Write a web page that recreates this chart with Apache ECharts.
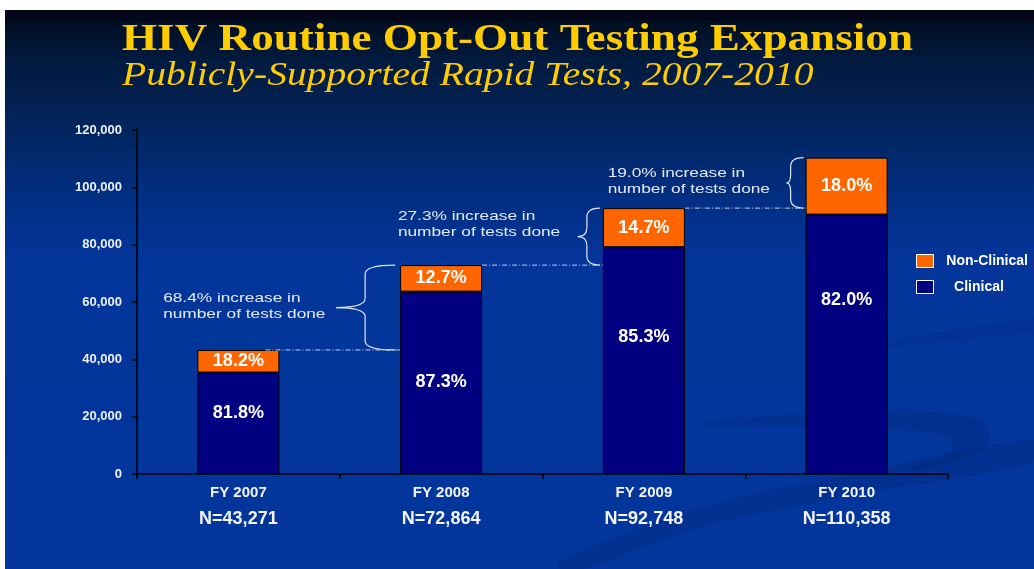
<!DOCTYPE html>
<html><head><meta charset="utf-8">
<script src="https://cdn.jsdelivr.net/npm/echarts@6/dist/echarts.min.js"></script>
<style>
html,body{margin:0;padding:0;background:#fff;width:1034px;height:569px;overflow:hidden}
#bg{position:absolute;left:5px;top:10px;width:1029px;height:559px;
background:linear-gradient(to bottom,#04061a 0px,#04061a 10px,#010e22 11px,#011a3e 50px,#03245a 110px,#022e80 180px,#03359a 250px,#02369c 559px)}
#chart{position:absolute;left:0;top:0;width:1034px;height:569px}
</style></head>
<body><div id="bg"></div><div id="chart"></div>
<script>
const categories = ['FY 2007', 'FY 2008', 'FY 2009', 'FY 2010'];
const totals = [43271, 72864, 92748, 110358];
const clinical = [35396, 63610, 79114, 90494];
const nonClinical = [7875, 9254, 13634, 19864];
const clinicalPct = ['81.8%', '87.3%', '85.3%', '82.0%'];
const nonClinicalPct = ['18.2%', '12.7%', '14.7%', '18.0%'];
const increasePct = ['68.4%', '27.3%', '19.0%'];
const yMin = 0, yMax = 120000, yStep = 20000;

const FONT = '"Liberation Sans", Arial, sans-serif';
const SERIF = '"Liberation Serif", "Times New Roman", serif';
const BAR_W = 82;
const clinicalLabelY = [40, 90, 90, 85];

const chart = echarts.init(document.getElementById('chart'), null, {renderer: 'canvas'});

const option = {
  backgroundColor: 'transparent',
  animation: false,
  grid: {left: 137, right: 86, top: 130, bottom: 95, containLabel: false},
  legend: {
    orient: 'vertical', left: 916, top: 254, padding: 0,
    itemWidth: 17, itemHeight: 13, itemGap: 12, icon: 'rect',
    data: ['Non-Clinical', 'Clinical'],
    formatter: n => n === 'Clinical' ? '    Clinical' : '  ' + n,
    itemStyle: {borderColor: '#ffffff', borderWidth: 1},
    textStyle: {color: '#ffffff', fontFamily: FONT, fontWeight: 'bold', fontSize: 14}
  },
  xAxis: {
    type: 'category', data: categories,
    axisLine: {show: true, lineStyle: {color: '#000', width: 1.5}},
    axisTick: {show: true, alignWithLabel: false, length: 5, lineStyle: {color: '#000', width: 1.5}},
    axisLabel: {
      margin: 5, interval: 0,
      formatter: (v, i) => '{a|' + v + '}\n{b|N=' + totals[i].toLocaleString('en-US') + '}',
      rich: {
        a: {color: '#f4f4f4', fontFamily: FONT, fontWeight: 'bold', fontSize: 15, lineHeight: 27},
        b: {color: '#f4f4f4', fontFamily: FONT, fontWeight: 'bold', fontSize: 18, lineHeight: 27}
      }
    }
  },
  yAxis: {
    type: 'value', min: yMin, max: yMax, interval: yStep,
    splitLine: {show: false},
    axisLine: {show: true, lineStyle: {color: '#000', width: 1.5}},
    axisTick: {show: true, length: 5, lineStyle: {color: '#000', width: 1.5}},
    axisLabel: {
      margin: 15, color: '#eef0f6', fontFamily: FONT, fontWeight: 'bold', fontSize: 13,
      formatter: v => v.toLocaleString('en-US')
    }
  },
  series: [
    {
      name: 'Clinical', type: 'bar', stack: 'total', barWidth: BAR_W,
      itemStyle: {color: '#000080', borderColor: '#000', borderWidth: 1},
      label: {
        show: true, align: 'center', verticalAlign: 'middle',
        color: '#ffffff', fontFamily: FONT, fontWeight: 'bold', fontSize: 18,
        formatter: p => clinicalPct[p.dataIndex]
      },
      data: clinical.map((v, i) => ({value: v, label: {position: ['50%', clinicalLabelY[i]]}}))
    },
    {
      name: 'Non-Clinical', type: 'bar', stack: 'total', barWidth: BAR_W,
      itemStyle: {color: '#ff6600', borderColor: '#000', borderWidth: 1},
      label: {
        show: true, position: 'inside',
        color: '#ffffff', fontFamily: FONT, fontWeight: 'bold', fontSize: 18,
        formatter: p => nonClinicalPct[p.dataIndex]
      },
      data: nonClinical
    }
  ]
};
chart.setOption(option);

const px = (i, v) => chart.convertToPixel({gridIndex: 0}, [i, v]);
const braceGeom = [{end: 5, vert: 35, tip: 64}, {end: 3, vert: 16, tip: 25}, {end: 2, vert: 15, tip: 19}];
const textGeom = [{dx: -237, dy: -17}, {dx: -205, dy: -28}, {dx: -198, dy: -18}];
const lineStart = [14, 0, 0];

const graphics = [];
const swooshFill = 'rgba(0,22,90,0.16)';
graphics.push({type: 'polygon', z: 0, silent: true,
  shape: {smooth: 0.35, points: [[690, 425], [850, 411], [975, 418], [990, 440], [960, 460], [905, 470], [952, 450], [945, 436], [880, 428], [790, 426]]},
  style: {fill: swooshFill}});
graphics.push({type: 'polygon', z: 0, silent: true,
  shape: {points: [[560, 560], [700, 508], [860, 472], [1034, 440], [1034, 462], [860, 494], [700, 527], [585, 569], [560, 569]], smooth: 0.3},
  style: {fill: swooshFill}});
graphics.push({type: 'polygon', z: 0, silent: true,
  shape: {points: [[860, 345], [950, 331], [1034, 318], [1034, 332], [950, 341], [860, 350]]},
  style: {fill: 'rgba(0,22,90,0.1)'}});

graphics.push({type: 'text', x: 122, y: 40, scaleX: 1.22, z: 10,
  style: {text: 'HIV Routine Opt-Out Testing Expansion', font: 'bold 37px ' + SERIF, fill: '#ffcc00', align: 'left', verticalAlign: 'middle'}});
graphics.push({type: 'text', x: 122, y: 76, scaleX: 1.2, z: 10,
  style: {text: 'Publicly-Supported Rapid Tests, 2007-2010', font: 'italic 33px ' + SERIF, fill: '#ffcc00', align: 'left', verticalAlign: 'middle'}});

const braceStyle = {stroke: '#dfe6f2', lineWidth: 1.2, fill: 'none'};
const curve = (x1, y1, cx, cy, x2, y2) => ({type: 'bezierCurve', z: 5, silent: true,
  shape: {x1: x1, y1: y1, cpx1: cx, cpy1: cy, x2: x2, y2: y2}, style: braceStyle});
const seg = (x1, y1, x2, y2) => ({type: 'line', z: 5, silent: true,
  shape: {x1: x1, y1: y1, x2: x2, y2: y2}, style: braceStyle});

for (let k = 0; k < increasePct.length; k++) {
  const i = k + 1;
  const yPrev = px(i - 1, totals[i - 1])[1];
  const yCur = px(i, totals[i])[1];
  const left = px(i, 0)[0] - BAR_W / 2;
  const prevRight = px(i - 1, 0)[0] + BAR_W / 2;
  graphics.push({type: 'line', z: 5, silent: true,
    shape: {x1: prevRight - lineStart[k], y1: yPrev, x2: left, y2: yPrev},
    style: {stroke: '#c4cce0', lineWidth: 1, lineDash: [5, 2, 1, 2]}});
  const g = braceGeom[k];
  const xe = left - g.end, xv = left - g.vert, xt = left - g.tip;
  const ym = (yPrev + yCur) / 2, r = 9;
  graphics.push(curve(xe, yCur, xv, yCur, xv, yCur + r));
  graphics.push(seg(xv, yCur + r, xv, ym - r));
  graphics.push(curve(xv, ym - r, xv, ym, xt, ym));
  graphics.push(curve(xt, ym, xv, ym, xv, ym + r));
  graphics.push(seg(xv, ym + r, xv, yPrev - r));
  graphics.push(curve(xv, yPrev - r, xv, yPrev, xe, yPrev));
  const t = textGeom[k];
  graphics.push({type: 'text', z: 10, x: left + t.dx, y: ym + t.dy, scaleX: 1.28,
    style: {text: increasePct[k] + ' increase in\nnumber of tests done', font: '13.5px ' + FONT,
      fill: '#e6ecf6', align: 'left', verticalAlign: 'top', lineHeight: 16}});
}
chart.setOption({graphic: graphics});
</script>
</body></html>
